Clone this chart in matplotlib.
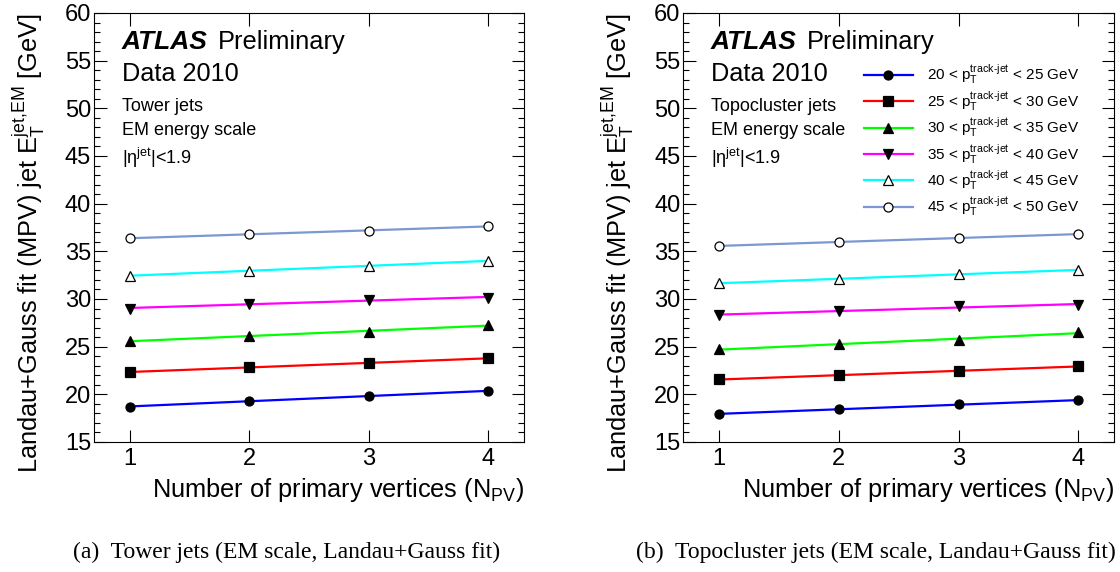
import numpy as np
import matplotlib
matplotlib.use("Agg")
import matplotlib.pyplot as plt

plt.rcParams['font.family'] = ['Liberation Sans', 'DejaVu Sans']
plt.rcParams['mathtext.fontset'] = 'custom'
plt.rcParams['mathtext.rm'] = 'Liberation Sans'
plt.rcParams['mathtext.it'] = 'Liberation Sans:italic'
plt.rcParams['mathtext.bf'] = 'Liberation Sans:bold'

# number of primary vertices
npv = [1, 2, 3, 4]

# MPV of the Landau+Gauss fit, one list per track-jet pT bin
tower_20_25 = [18.71, 19.30, 19.83, 20.35]
tower_25_30 = [22.34, 22.83, 23.29, 23.78]
tower_30_35 = [25.63, 26.08, 26.54, 27.30]
tower_35_40 = [29.00, 29.48, 29.93, 30.14]
tower_40_45 = [32.45, 32.94, 33.50, 33.99]
tower_45_50 = [36.36, 36.82, 37.17, 37.62]

topo_20_25 = [17.94, 18.43, 18.95, 19.37]
topo_25_30 = [21.57, 21.99, 22.45, 22.94]
topo_30_35 = [24.76, 25.24, 25.66, 26.54]
topo_35_40 = [28.29, 28.78, 29.23, 29.37]
topo_40_45 = [31.64, 32.10, 32.66, 33.01]
topo_45_50 = [35.56, 36.01, 36.36, 36.82]

bin_labels = ["20 < $\\mathrm{p}_{\\mathrm{T}}^{\\mathrm{track\\text{-}jet}}$ < 25 GeV",
              "25 < $\\mathrm{p}_{\\mathrm{T}}^{\\mathrm{track\\text{-}jet}}$ < 30 GeV",
              "30 < $\\mathrm{p}_{\\mathrm{T}}^{\\mathrm{track\\text{-}jet}}$ < 35 GeV",
              "35 < $\\mathrm{p}_{\\mathrm{T}}^{\\mathrm{track\\text{-}jet}}$ < 40 GeV",
              "40 < $\\mathrm{p}_{\\mathrm{T}}^{\\mathrm{track\\text{-}jet}}$ < 45 GeV",
              "45 < $\\mathrm{p}_{\\mathrm{T}}^{\\mathrm{track\\text{-}jet}}$ < 50 GeV"]
line_colors = ['#0000ff', '#ff0000', '#00ff00', '#ff00ff', '#00ffff', '#7b98d0']
markers = ['o', 's', '^', 'v', '^', 'o']
filled = [True, True, True, True, False, False]

panels = [
    ([tower_20_25, tower_25_30, tower_30_35, tower_35_40, tower_40_45, tower_45_50],
     "Tower jets", "(a)  Tower jets (EM scale, Landau+Gauss fit)"),
    ([topo_20_25, topo_25_30, topo_30_35, topo_35_40, topo_40_45, topo_45_50],
     "Topocluster jets", "(b)  Topocluster jets (EM scale, Landau+Gauss fit)"),
]

fig = plt.figure(figsize=(11.2, 5.72), dpi=100)
ax_rects = [[0.0839, 0.2273, 0.3842, 0.75], [0.6101, 0.2273, 0.3846, 0.75]]
caption_x = [0.256, 0.782]

for p, (series, jet_type, caption) in enumerate(panels):
    ax = fig.add_axes(ax_rects[p])
    handles = []
    for i, vals in enumerate(series):
        # straight-line fit through the points
        k, b = np.polyfit(npv, vals, 1)
        xf = np.array([npv[0], npv[-1]])
        ln, = ax.plot(xf, k * xf + b, color=line_colors[i], lw=1.6, zorder=2)
        pts, = ax.plot(npv, vals, ls='none', marker=markers[i], ms=6.5,
                       mfc='black' if filled[i] else 'white', mec='black',
                       mew=0.9, zorder=3)
        handles.append((ln, pts))

    ax.set_xlim(0.7, 4.3)
    ax.set_ylim(15, 60)
    ax.set_xticks(npv)
    ax.set_yticks(range(15, 61, 5))
    ax.set_yticks(range(15, 61, 1), minor=True)
    ax.tick_params(which='both', direction='in', top=True, right=True,
                   width=0.8, labelsize=17)
    ax.tick_params(which='major', length=9)
    ax.tick_params(which='minor', length=4.4)
    ax.tick_params(axis='x', pad=4)
    ax.tick_params(axis='y', pad=2)
    for s in ax.spines.values():
        s.set_linewidth(0.8)

    ax.set_xlabel("Number of primary vertices (N$_{\\mathrm{PV}}$)", fontsize=18.3, loc='right')
    ax.xaxis.set_label_coords(1.0, -0.08)
    ax.set_ylabel("Landau+Gauss fit (MPV) jet $\\mathrm{E}_{\\mathrm{T}}^{\\mathrm{jet{,}EM}}$ [GeV]",
                  fontsize=18.3, loc='top')
    ax.yaxis.set_label_coords(-0.11, 1.0)

    ax.text(0.064, 0.916, "ATLAS", transform=ax.transAxes, fontsize=19,
            fontweight='bold', fontstyle='italic')
    ax.text(0.288, 0.916, "Preliminary", transform=ax.transAxes, fontsize=18.3)
    ax.text(0.064, 0.841, "Data 2010", transform=ax.transAxes, fontsize=18.2)
    ax.text(0.064, 0.772, jet_type, transform=ax.transAxes, fontsize=13)
    ax.text(0.064, 0.716, "EM energy scale", transform=ax.transAxes, fontsize=13)
    ax.text(0.064, 0.648, "|η$^{\\mathrm{jet}}$|<1.9", transform=ax.transAxes, fontsize=13)

    if p == 1:
        ax.legend(handles, bin_labels, loc='upper left', bbox_to_anchor=(0.42, 0.883),
                  frameon=False, fontsize=11, handlelength=3.16, handletextpad=0.94,
                  labelspacing=0.2, borderpad=0, borderaxespad=0, numpoints=1)

    fig.text(caption_x[p], 0.035, caption, ha='center', va='center',
             fontsize=17, family='Liberation Serif')

fig.savefig("out.png", dpi=100)
